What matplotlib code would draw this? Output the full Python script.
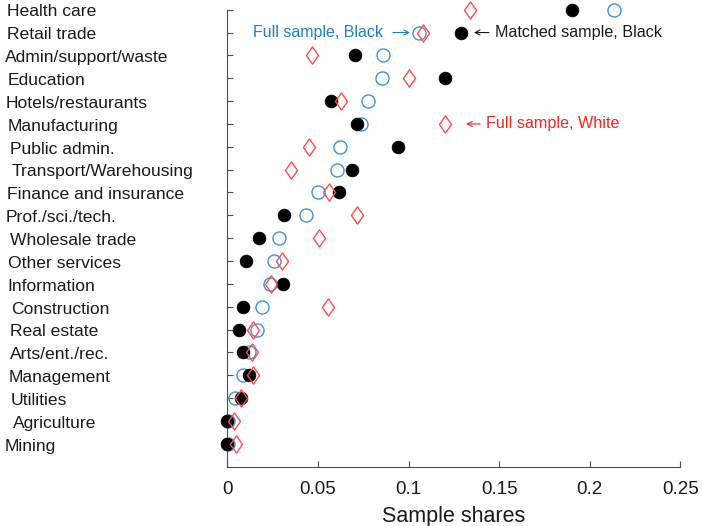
import matplotlib
matplotlib.use("Agg")
import matplotlib.pyplot as plt
from matplotlib.path import Path
from matplotlib.transforms import blended_transform_factory

plt.rcParams['font.family'] = ['Liberation Sans', 'DejaVu Sans']

# Industries, top to bottom
industries = [
    "Health care", "Retail trade", "Admin/support/waste", "Education",
    "Hotels/restaurants", "Manufacturing", "Public admin.",
    "Transport/Warehousing", "Finance and insurance", "Prof./sci./tech.",
    "Wholesale trade", "Other services", "Information", "Construction",
    "Real estate", "Arts/ent./rec.", "Management", "Utilities",
    "Agriculture", "Mining",
]

# Sample shares by industry
full_black = [0.2132, 0.1058, 0.0861, 0.0856, 0.0778, 0.0736, 0.0622,
              0.0604, 0.0502, 0.0434, 0.0284, 0.0256, 0.0236, 0.0193,
              0.0166, 0.0118, 0.0088, 0.0042, 0.0006, 0.0002]
matched_black = [0.1904, 0.1288, 0.0705, 0.1201, 0.0572, 0.0718, 0.0944,
                 0.0686, 0.0618, 0.0315, 0.0177, 0.0103, 0.0309, 0.0085,
                 0.0066, 0.0085, 0.0120, 0.0074, 0.0000, 0.0000]
full_white = [0.1340, 0.1078, 0.0467, 0.1005, 0.0627, 0.1201, 0.0451,
              0.0352, 0.0561, 0.0714, 0.0508, 0.0300, 0.0239, 0.0556,
              0.0142, 0.0138, 0.0140, 0.0074, 0.0037, 0.0048]

xticks = [0, 0.05, 0.1, 0.15, 0.2, 0.25]
xticklabels = ["0", "0.05", "0.1", "0.15", "0.2", "0.25"]

# Left edge (pixels) of each hand-placed industry label
label_left_px = [7, 7, 5, 8, 6, 8, 10, 12, 7, 6,
                 9.5, 8, 7, 11, 10, 9.5, 8.5, 11, 13, 5]

W, H = 702, 526
fig = plt.figure(figsize=(W / 100, H / 100), dpi=100)
ax = fig.add_axes([227.3 / W, (H - 466.7) / H, 453 / W, (466.7 - 9.7) / H])

n = len(industries)
ypos = [n - i for i in range(n)]

# Tall diamond marker (width about 0.7 of height)
diamond = Path([(0, 1), (0.7, 0), (0, -1), (-0.7, 0), (0, 1)],
               [Path.MOVETO, Path.LINETO, Path.LINETO, Path.LINETO, Path.CLOSEPOLY])

blue = '#1f7fc6'
red = '#ff2020'

ax.plot(full_black, ypos, linestyle='none', marker='o', markersize=9.4,
        markerfacecolor='none', markeredgecolor='#3d93d6', markeredgewidth=1.0,
        clip_on=False, zorder=3)
ax.plot(matched_black, ypos, linestyle='none', marker='o', markersize=9.2,
        markerfacecolor='black', markeredgecolor='black', markeredgewidth=0.5,
        clip_on=False, zorder=4)
ax.plot(full_white, ypos, linestyle='none', marker=diamond, markersize=12.4,
        markerfacecolor='none', markeredgecolor='#ff4c4c', markeredgewidth=1.0,
        clip_on=False, zorder=5)

ax.set_xlim(0, 0.25)
ax.set_ylim(0, n)
ax.set_xticks(xticks)
ax.set_xticklabels(xticklabels)
ax.set_yticks(ypos)
ax.set_yticklabels([])
ax.set_xlabel("Sample shares", fontsize=15.5, color='#1a1a1a', labelpad=6)

for side in ('top', 'right'):
    ax.spines[side].set_visible(False)
for side in ('left', 'bottom'):
    ax.spines[side].set_color('#4d4d4d')
    ax.spines[side].set_linewidth(0.8)
ax.tick_params(axis='both', direction='in', length=4, width=0.8,
               color='#4d4d4d', labelsize=13.5, labelcolor='#1a1a1a')
ax.tick_params(axis='x', pad=10)

# Industry names placed as free text beside their rows
trans = blended_transform_factory(fig.transFigure, ax.transData)
for name, y, px in zip(industries, ypos, label_left_px):
    ax.text(px / W, y - 0.1, name, transform=trans, ha='left', va='center',
            fontsize=12.6, color='#1a1a1a', clip_on=False)


def thin_arrow(x_tail, x_head, y, color):
    ax.annotate("", xy=(x_head, y), xytext=(x_tail, y),
                arrowprops=dict(arrowstyle='->,head_length=0.35,head_width=0.18',
                                color=color, lw=0.8, shrinkA=0, shrinkB=0),
                annotation_clip=False)


# Series annotations
ax.text(0.0861, ypos[1], "Full sample, Black", ha='right', va='center',
        fontsize=11.5, color=blue)
thin_arrow(0.0914, 0.1008, ypos[1], blue)

ax.text(0.1477, ypos[1], "Matched sample, Black", ha='left', va='center',
        fontsize=11.6, color='#1a1a1a')
thin_arrow(0.1444, 0.1361, ypos[1], '#1a1a1a')

ax.text(0.1428, ypos[5], "Full sample, White", ha='left', va='center',
        fontsize=11.6, color=red)
thin_arrow(0.1395, 0.1318, ypos[5], red)

fig.savefig("out.png", dpi=100)
